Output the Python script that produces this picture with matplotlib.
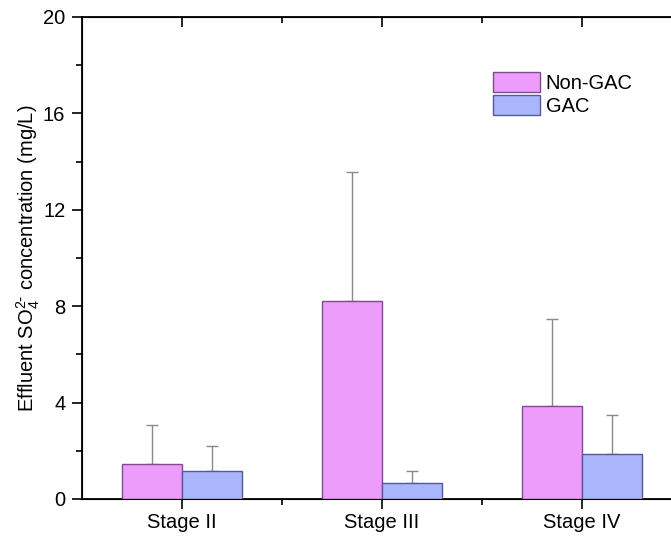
import numpy as np
import matplotlib
matplotlib.use("Agg")
import matplotlib.pyplot as plt

# effluent sulfate per stage, mean and SD (one-sided up)
stages = ["Stage II", "Stage III", "Stage IV"]
non_gac = [1.45, 8.2, 3.87]
non_gac_sd = [1.6, 5.35, 3.6]
gac = [1.15, 0.65, 1.85]
gac_sd = [1.05, 0.5, 1.65]

plt.rcParams['font.family'] = ['Liberation Sans', 'DejaVu Sans']
plt.rcParams['font.size'] = 14.5

fig = plt.figure(figsize=(6.71, 5.38), dpi=100)
ax = fig.add_axes([0.1222, 0.0725, 0.894, 0.896])

x = np.arange(1, len(stages) + 1)
w = 0.3

ax.bar(x - w/2, non_gac, w, color='#EE9CFC', edgecolor='#7E4C8E', lw=1.0,
       label='Non-GAC', zorder=3)
ax.bar(x + w/2, gac, w, color='#AAB6FC', edgecolor='#55599A', lw=1.0,
       label='GAC', zorder=3)
ax.errorbar(x - w/2, non_gac, yerr=[np.zeros(3), non_gac_sd], fmt='none',
            ecolor='#8a8a8a', elinewidth=1.0, capsize=4, capthick=1.0, zorder=2)
ax.errorbar(x + w/2, gac, yerr=[np.zeros(3), gac_sd], fmt='none',
            ecolor='#8a8a8a', elinewidth=1.0, capsize=4, capthick=1.0, zorder=2)

ax.set_xlim(0.5, 3.5)
ax.set_ylim(0, 20)
ax.set_xticks(x)
ax.set_xticklabels(stages)
ax.set_xticks(x[:-1] + 0.5, minor=True)
ax.set_yticks([0, 4, 8, 12, 16, 20])
ax.set_yticks([2, 6, 10, 14, 18], minor=True)
ax.tick_params(axis='both', which='major', direction='out', length=7, width=1.2)
ax.tick_params(axis='both', which='minor', direction='out', length=4, width=1.2)
ax.tick_params(axis='y', pad=5)
ax.tick_params(axis='x', pad=3)
for s in ax.spines.values():
    s.set_linewidth(1.3)

# top axis with inward ticks, no labels
top = ax.twiny()
top.set_xlim(ax.get_xlim())
top.set_xticks(x)
top.set_xticks(x[:-1] + 0.5, minor=True)
top.set_xticklabels([])
top.tick_params(axis='x', which='major', direction='in', length=7, width=1.2)
top.tick_params(axis='x', which='minor', direction='in', length=4, width=1.2)

ax.set_ylabel(r'Effluent SO$\mathregular{_4^{2\text{-}}}$ concentration (mg/L)', labelpad=1)

ax.legend(loc='upper left', bbox_to_anchor=(0.72, 0.885), bbox_transform=fig.transFigure,
          frameon=False, borderpad=0, handlelength=2.3, handleheight=1.15,
          labelspacing=0.12, handletextpad=0.3)

fig.savefig('out.png', dpi=100)
